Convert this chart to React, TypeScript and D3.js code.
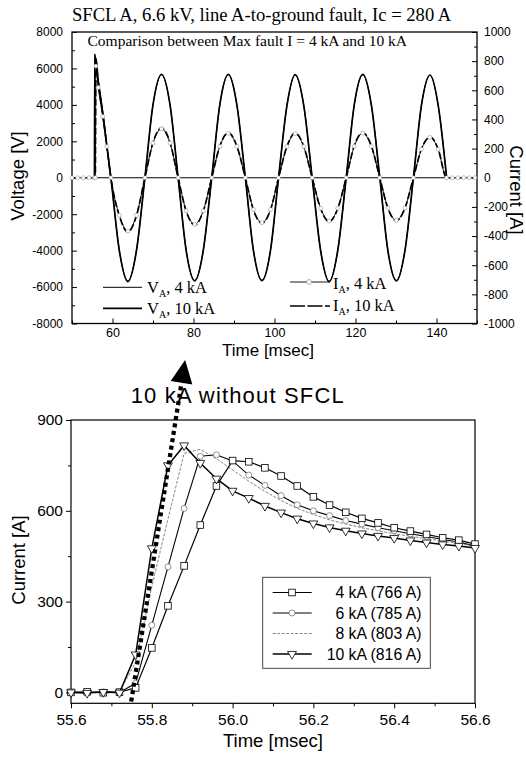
import React, { useEffect, useRef } from "react";
import * as d3 from "d3";

const W = 526;
const H = 758;
const SANS = "'Liberation Sans', Arial, Helvetica, sans-serif";
const SERIF = "'Liberation Serif', 'Times New Roman', Times, serif";

// ---------- upper panel (time in msec) ----------
const vTime = [55.55, 55.6, 56.5, 57.6, 58.6, 59.6, 61.7, 63.8, 65.9, 68.0, 70.0, 72.1, 74.2, 76.2, 78.2, 80.3, 82.4, 84.5, 86.5, 88.6, 90.7, 92.8, 94.8, 96.9, 99.0, 101.0, 103.1, 105.1, 107.2, 109.3, 111.4, 113.5, 115.6, 117.7, 119.7, 121.8, 123.9, 126.0, 128.0, 130.1, 132.2, 134.3, 136.3, 138.4, 140.4, 142.5];
const vA4 = [0, 6800, 5300, 3600, 1800, 0, -4000, -5650, -4000, 0, 4000, 5650, 4000, 0, -4000, -5640, -4000, 0, 4000, 5660, 4000, 0, -4000, -5620, -4000, 0, 4000, 5640, 4000, 0, -4000, -5680, -4000, 0, 4000, 5650, 4000, 0, -4000, -5640, -4000, 0, 4000, 5620, 4000, 0];
const vA10 = [0, 6700, 5250, 3550, 1750, 0, -4020, -5700, -4020, 0, 4010, 5680, 4010, 0, -4010, -5660, -4010, 0, 4010, 5670, 4010, 0, -4000, -5650, -4000, 0, 4000, 5660, 4000, 0, -4020, -5700, -4020, 0, 4010, 5670, 4010, 0, -4010, -5660, -4010, 0, 4000, 5640, 4000, 0];

const iTime = [50, 51.4, 52.8, 54.2, 55.5, 55.75, 55.9, 56.5, 57.6, 58.6, 59.6, 61.7, 63.8, 65.9, 68.0, 70.0, 72.1, 74.2, 76.2, 78.2, 80.3, 82.4, 84.5, 86.5, 88.6, 90.7, 92.8, 94.8, 96.9, 99.0, 101.0, 103.1, 105.1, 107.2, 109.3, 111.4, 113.5, 115.6, 117.7, 119.7, 121.8, 123.9, 126.0, 128.0, 130.1, 132.2, 134.3, 136.3, 138.4, 140.4, 142.5, 143.9, 145.3, 146.7, 148.1, 149.5];
const iA4 = [0, 0, 0, 0, 0, 0, 766, 620, 420, 215, 0, -258, -366, -258, 0, 238, 336, 238, 0, -227, -320, -227, 0, 215, 304, 215, 0, -218, -308, -218, 0, 214, 303, 214, 0, -210, -297, -210, 0, 216, 306, 216, 0, -207, -292, -207, 0, 196, 277, 196, 0, 0, 0, 0, 0, 0];
const iA10 = [0, 0, 0, 0, 0, 0, 816, 650, 430, 220, 0, -262, -372, -262, 0, 242, 342, 242, 0, -230, -325, -230, 0, 218, 308, 218, 0, -221, -313, -221, 0, 217, 307, 217, 0, -213, -301, -213, 0, 219, 310, 219, 0, -209, -295, -209, 0, 198, 280, 198, 0, 0, 0, 0, 0, 0];

const vTicks = [-8000, -6000, -4000, -2000, 0, 2000, 4000, 6000, 8000];
const iTicks = [-1000, -800, -600, -400, -200, 0, 200, 400, 600, 800, 1000];
const tTicks = [60, 80, 100, 120, 140];

// ---------- lower panel (time in msec, current in A) ----------
const zTime = [55.60, 55.64, 55.68, 55.72, 55.76, 55.80, 55.84, 55.88, 55.92, 55.96, 56.00, 56.04, 56.08, 56.12, 56.16, 56.20, 56.24, 56.28, 56.32, 56.36, 56.40, 56.44, 56.48, 56.52, 56.56, 56.60];
const z4 = [0, 2, -1, 1, 15, 147, 286, 418, 553, 682, 766, 762, 742, 715, 682, 646, 619, 595, 575, 560, 544, 533, 522, 511, 503, 490];
const z6 = [1, -1, 2, 0, 30, 222, 415, 608, 780, 785, 765, 718, 684, 650, 620, 600, 584, 568, 556, 544, 534, 524, 515, 505, 497, 484];
const z8 = [0, 1, -2, 1, 100, 349, 573, 790, 803, 772, 735, 698, 664, 634, 608, 588, 570, 556, 544, 534, 524, 516, 508, 500, 492, 482];
const z10 = [0, -2, 1, -1, 125, 476, 750, 816, 758, 706, 666, 642, 616, 594, 574, 558, 545, 534, 525, 517, 510, 502, 495, 489, 484, 477];
const noLimitTime = [55.749, 55.8825];
const noLimitCur = [-30, 1098];
const zTicksX = [55.6, 55.8, 56.0, 56.2, 56.4, 56.6];
const zTicksY = [0, 300, 600, 900];
const lowerLabels = ["4 kA (766 A)", "6 kA (785 A)", "8 kA (803 A)", "10 kA (816 A)"];

export default function App() {
  const ref = useRef<SVGSVGElement | null>(null);

  useEffect(() => {
    const svg = d3.select(ref.current);
    svg.selectAll("*").remove();

    const tidy = (g: any, size: number) => {
      g.attr("font-size", size).attr("font-family", SANS);
      g.select(".domain").remove();
      g.selectAll(".tick line").attr("stroke", "#000").attr("stroke-width", 1);
      g.selectAll(".tick text").attr("fill", "#000");
    };
    const fmt = (d: any) => String(d);

    // ================= upper chart =================
    const xT = d3.scaleLinear().domain([50, 150]).range([72, 477]);
    const yV = d3.scaleLinear().domain([-8000, 8000]).range([323.5, 32]);
    const yI = d3.scaleLinear().domain([-1000, 1000]).range([323.5, 32]);

    const up = svg.append("g");

    // axes
    up.append("g").attr("transform", `translate(${xT(50)},0)`)
      .call(d3.axisLeft(yV).tickValues(vTicks).tickSize(-5).tickPadding(9).tickFormat(fmt))
      .call(tidy, 12);
    up.append("g").attr("transform", `translate(${xT(50)},0)`)
      .call(d3.axisLeft(yV).tickValues(d3.range(-7000, 8000, 2000)).tickSize(-3).tickFormat(() => ""))
      .call(tidy, 12);
    up.append("g").attr("transform", `translate(${xT(150)},0)`)
      .call(d3.axisRight(yI).tickValues(iTicks).tickSize(-5).tickPadding(7).tickFormat(fmt))
      .call(tidy, 12);
    up.append("g").attr("transform", `translate(${xT(150)},0)`)
      .call(d3.axisRight(yI).tickValues(d3.range(-900, 1000, 200)).tickSize(-3).tickFormat(() => ""))
      .call(tidy, 12);
    up.append("g").attr("transform", `translate(0,${yV(-8000)})`)
      .call(d3.axisBottom(xT).tickValues(tTicks).tickSize(-5).tickPadding(5).tickFormat(fmt))
      .call(tidy, 12.5);
    up.append("g").attr("transform", `translate(0,${yV(-8000)})`)
      .call(d3.axisBottom(xT).tickValues(d3.range(50, 151, 20)).tickSize(-3).tickFormat(() => ""))
      .call(tidy, 12.5);

    up.append("rect")
      .attr("x", xT(50)).attr("y", yV(8000))
      .attr("width", xT(150) - xT(50)).attr("height", yV(-8000) - yV(8000))
      .attr("fill", "none").attr("stroke", "#000").attr("stroke-width", 1.3);

    // zero reference
    up.append("line")
      .attr("x1", xT(55.5)).attr("x2", xT(142.5))
      .attr("y1", yV(0)).attr("y2", yV(0))
      .attr("stroke", "#000").attr("stroke-width", 1);

    const vLine = d3.line<number>()
      .x((_, i) => xT(vTime[i])).y((d) => yV(d)).curve(d3.curveMonotoneX);
    const iLine = d3.line<number>()
      .x((_, i) => xT(iTime[i])).y((d) => yI(d)).curve(d3.curveMonotoneX);

    up.append("path").attr("d", vLine(vA4)).attr("fill", "none")
      .attr("stroke", "#000").attr("stroke-width", 1);
    up.append("path").attr("d", vLine(vA10)).attr("fill", "none")
      .attr("stroke", "#000").attr("stroke-width", 1.7);

    up.append("path").attr("d", iLine(iA4)).attr("fill", "none")
      .attr("stroke", "#000").attr("stroke-width", 0.9);
    up.append("path").attr("d", iLine(iA10)).attr("fill", "none")
      .attr("stroke", "#000").attr("stroke-width", 1.7).attr("stroke-dasharray", "7 2.5");
    up.append("g").selectAll("circle").data(iA4).join("circle")
      .attr("cx", (_, i) => xT(iTime[i])).attr("cy", (d) => yI(d)).attr("r", 2)
      .attr("fill", "#fff").attr("stroke", "#888").attr("stroke-width", 0.5);

    // titles
    up.append("text").attr("x", 72).attr("y", 20.5)
      .attr("font-family", SERIF).attr("font-size", 18.6)
      .text("SFCL A, 6.6 kV, line A-to-ground fault, Ic = 280 A");
    up.append("text").attr("x", 87.5).attr("y", 46)
      .attr("font-family", SERIF).attr("font-size", 15.5)
      .text("Comparison between Max fault I = 4 kA and 10 kA");
    up.append("text").attr("transform", "translate(24,176) rotate(-90)")
      .attr("text-anchor", "middle").attr("font-family", SANS).attr("font-size", 18.5)
      .text("Voltage [V]");
    up.append("text").attr("transform", "translate(510,190) rotate(90)")
      .attr("text-anchor", "middle").attr("font-family", SANS).attr("font-size", 18.5)
      .text("Current [A]");
    up.append("text").attr("x", 268).attr("y", 355.5)
      .attr("text-anchor", "middle").attr("font-family", SANS).attr("font-size", 17)
      .text("Time [msec]");

    // upper legend
    const subText = (x: number, y: number, main: string, rest: string) => {
      const t = up.append("text").attr("x", x).attr("y", y)
        .attr("font-family", SERIF).attr("font-size", 16.5);
      t.append("tspan").text(main);
      t.append("tspan").attr("dy", 4).attr("font-size", 10).text("A");
      t.append("tspan").attr("dy", -4).text(rest);
    };
    up.append("line").attr("x1", 103).attr("x2", 142).attr("y1", 287.3).attr("y2", 287.3)
      .attr("stroke", "#000").attr("stroke-width", 1);
    subText(147, 292.5, "V", ", 4 kA");
    up.append("line").attr("x1", 103).attr("x2", 142).attr("y1", 308.3).attr("y2", 308.3)
      .attr("stroke", "#000").attr("stroke-width", 1.7);
    subText(147, 313.5, "V", ", 10 kA");
    up.append("line").attr("x1", 290).attr("x2", 330).attr("y1", 282).attr("y2", 282)
      .attr("stroke", "#000").attr("stroke-width", 0.9);
    up.append("circle").attr("cx", 309).attr("cy", 282).attr("r", 2.5)
      .attr("fill", "#fff").attr("stroke", "#888").attr("stroke-width", 0.6);
    subText(333, 289, "I", ", 4 kA");
    up.append("line").attr("x1", 290).attr("x2", 330).attr("y1", 306).attr("y2", 306)
      .attr("stroke", "#000").attr("stroke-width", 1.7).attr("stroke-dasharray", "15 2.5");
    subText(333, 311, "I", ", 10 kA");

    // ================= lower chart =================
    const xB = d3.scaleLinear().domain([55.6, 56.6]).range([71, 475]);
    const yB = d3.scaleLinear().domain([-36, 900]).range([703.3, 420]);
    const low = svg.append("g");

    low.append("g").attr("transform", `translate(${xB(55.6)},0)`)
      .call(d3.axisLeft(yB).tickValues(zTicksY).tickSize(5).tickPadding(3).tickFormat(fmt))
      .call(tidy, 15.5);
    low.append("g").attr("transform", `translate(${xB(55.6)},0)`)
      .call(d3.axisLeft(yB).tickValues([150, 450, 750]).tickSize(3).tickFormat(() => ""))
      .call(tidy, 15.5);
    low.append("g").attr("transform", `translate(0,${yB(-36)})`)
      .call(d3.axisBottom(xB).tickValues(zTicksX).tickSize(5).tickPadding(6).tickFormat(d3.format(".1f") as any))
      .call(tidy, 15.5);
    low.append("g").attr("transform", `translate(0,${yB(-36)})`)
      .call(d3.axisBottom(xB).tickValues([55.7, 55.9, 56.1, 56.3, 56.5]).tickSize(3).tickFormat(() => ""))
      .call(tidy, 15.5);

    low.append("rect")
      .attr("x", xB(55.6)).attr("y", yB(900))
      .attr("width", xB(56.6) - xB(55.6)).attr("height", yB(-36) - yB(900))
      .attr("fill", "none").attr("stroke", "#000").attr("stroke-width", 1.2);

    const zLine = d3.line<number>()
      .x((_, i) => xB(zTime[i])).y((d) => yB(d));

    // 8 kA: thin grey dashed
    low.append("path").attr("d", zLine(z8)).attr("fill", "none")
      .attr("stroke", "#777").attr("stroke-width", 0.9).attr("stroke-dasharray", "3 1.5");
    // 6 kA: circles
    low.append("path").attr("d", zLine(z6)).attr("fill", "none")
      .attr("stroke", "#000").attr("stroke-width", 1.1);
    low.append("g").selectAll("circle").data(z6).join("circle")
      .attr("cx", (_, i) => xB(zTime[i])).attr("cy", (d) => yB(d)).attr("r", 3)
      .attr("fill", "#fff").attr("stroke", "#666").attr("stroke-width", 0.7);
    // 4 kA: squares
    low.append("path").attr("d", zLine(z4)).attr("fill", "none")
      .attr("stroke", "#000").attr("stroke-width", 1.2);
    low.append("g").selectAll("rect").data(z4).join("rect")
      .attr("x", (_, i) => xB(zTime[i]) - 3.3).attr("y", (d) => yB(d) - 3.3)
      .attr("width", 6.6).attr("height", 6.6)
      .attr("fill", "#fff").attr("stroke", "#000").attr("stroke-width", 0.8);
    // 10 kA: down triangles
    low.append("path").attr("d", zLine(z10)).attr("fill", "none")
      .attr("stroke", "#000").attr("stroke-width", 1.5);
    const tri = d3.symbol().type(d3.symbolTriangle).size(34);
    low.append("g").selectAll("path").data(z10).join("path")
      .attr("d", tri() as string)
      .attr("transform", (d, i) => `translate(${xB(zTime[i])},${yB(d)}) rotate(180)`)
      .attr("fill", "#fff").attr("stroke", "#000").attr("stroke-width", 0.8);

    // 10 kA without SFCL: dotted arrow
    const p0 = [xB(noLimitTime[0]), yB(noLimitCur[0])];
    const tip = [xB(noLimitTime[1]), yB(noLimitCur[1])];
    const len = Math.hypot(tip[0] - p0[0], tip[1] - p0[1]);
    const ux = (tip[0] - p0[0]) / len;
    const uy = (tip[1] - p0[1]) / len;
    const hl = 23, hw = 11;
    const base = [tip[0] - ux * hl, tip[1] - uy * hl];
    low.append("line")
      .attr("x1", p0[0]).attr("y1", p0[1]).attr("x2", base[0]).attr("y2", base[1])
      .attr("stroke", "#000").attr("stroke-width", 4.3).attr("stroke-dasharray", "4 3.5");
    low.append("path")
      .attr("d", `M${tip[0]},${tip[1]}L${base[0] - uy * hw},${base[1] + ux * hw}L${base[0] + uy * hw},${base[1] - ux * hw}Z`)
      .attr("fill", "#000");
    low.append("text").attr("x", 130.7).attr("y", 403.3)
      .attr("font-family", SANS).attr("font-size", 22).attr("textLength", 213)
      .text("10 kA without SFCL");

    // lower legend
    const lg = low.append("g");
    lg.append("rect").attr("x", 262.7).attr("y", 577.3).attr("width", 167.6).attr("height", 91)
      .attr("fill", "#fff").attr("stroke", "#333").attr("stroke-width", 0.9);
    const rowY = [598, 618.5, 639, 659.5];
    lowerLabels.forEach((lab, k) => {
      const cy = rowY[k] - 5.5;
      lg.append("line").attr("x1", 272.7).attr("x2", 311.7).attr("y1", cy).attr("y2", cy)
        .attr("stroke", k === 2 ? "#777" : "#000")
        .attr("stroke-width", [1.2, 1.1, 0.9, 1.5][k])
        .attr("stroke-dasharray", k === 2 ? "3 1.5" : null);
      if (k === 0) {
        lg.append("rect").attr("x", 292 - 3.3).attr("y", cy - 3.3).attr("width", 6.6).attr("height", 6.6)
          .attr("fill", "#fff").attr("stroke", "#000").attr("stroke-width", 0.8);
      } else if (k === 1) {
        lg.append("circle").attr("cx", 292).attr("cy", cy).attr("r", 3)
          .attr("fill", "#fff").attr("stroke", "#666").attr("stroke-width", 0.7);
      } else if (k === 3) {
        lg.append("path").attr("d", tri() as string)
          .attr("transform", `translate(292,${cy}) rotate(180)`)
          .attr("fill", "#fff").attr("stroke", "#000").attr("stroke-width", 0.8);
      }
      lg.append("text").attr("x", 421.5).attr("y", rowY[k]).attr("text-anchor", "end")
        .attr("font-family", SANS).attr("font-size", 15.8).text(lab);
    });

    low.append("text").attr("transform", "translate(25,560) rotate(-90)")
      .attr("text-anchor", "middle").attr("font-family", SANS).attr("font-size", 18.5)
      .text("Current [A]");
    low.append("text").attr("x", 273).attr("y", 747)
      .attr("text-anchor", "middle").attr("font-family", SANS).attr("font-size", 18.5)
      .text("Time [msec]");
  }, []);

  return (
    <svg
      ref={ref}
      width={W}
      height={H}
      style={{ position: "absolute", left: 0, top: 0, background: "#fff" }}
    />
  );
}
